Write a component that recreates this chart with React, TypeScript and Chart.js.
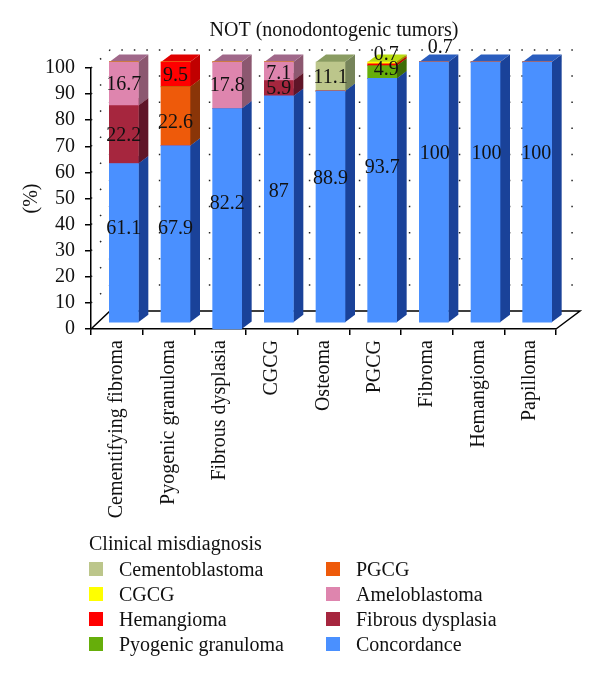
import React, { useEffect, useRef } from "react";
import { Chart, registerables } from "chart.js";

Chart.register(...registerables);

const FONT = '"Liberation Serif", serif';

const categories = ["Cementifying fibroma", "Pyogenic granuloma", "Fibrous dysplasia", "CGCG", "Osteoma", "PGCG", "Fibroma", "Hemangioma", "Papilloma"];
const concordance = [61.1, 67.9, 82.2, 87, 88.9, 93.7, 100, 100, 100];
const fibrousDysplasia = [22.2, 0, 0, 5.9, 0, 0, 0, 0, 0];
const ameloblastoma = [16.7, 0, 17.8, 7.1, 0, 0, 0, 0, 0];
const pgcg = [0, 22.6, 0, 0, 0, 0, 0, 0, 0];
const pyogenicGranuloma = [0, 0, 0, 0, 0, 4.9, 0, 0, 0];
const hemangioma = [0, 9.5, 0, 0, 0, 0.7, 0, 0, 0];
const cgcg = [0, 0, 0, 0, 0, 0.7, 0, 0, 0];
const cementoblastoma = [0, 0, 0, 0, 11.1, 0, 0, 0, 0];

const seriesTable = [
  { label: "Concordance", data: concordance, front: "#4a90ff", side: "#1a4299", top: "#2a5dbe" },
  { label: "Fibrous dysplasia", data: fibrousDysplasia, front: "#a6263e", side: "#5f1528", top: "#7a1c30" },
  { label: "Ameloblastoma", data: ameloblastoma, front: "#de85ae", side: "#8c5870", top: "#a0688a" },
  { label: "PGCG", data: pgcg, front: "#ee5a0a", side: "#8a3508", top: "#b04506" },
  { label: "Pyogenic granuloma", data: pyogenicGranuloma, front: "#66ae0a", side: "#3f6c06", top: "#4f8a08" },
  { label: "Hemangioma", data: hemangioma, front: "#ff0000", side: "#c00000", top: "#e00000" },
  { label: "CGCG", data: cgcg, front: "#ffff00", side: "#9a9a00", top: "#b8dc10" },
  { label: "Cementoblastoma", data: cementoblastoma, front: "#bcc68b", side: "#76845a", top: "#8a9c62" },
];

// Hand placement of value labels, which sit off-centre in the reference: [series, category, dx, dy]
const labelNudges: [number, number, number, number][] = [
  [0, 0, 0, -14], [0, 1, 0, -5], [0, 2, 0, -15], [0, 3, 0, -17], [0, 4, 0, -28], [0, 5, 0, -33],
  [0, 6, 1, -38], [0, 7, 1, -38], [0, 8, -1, -38],
  [3, 1, 0, 6], [2, 0, 0, 1], [2, 3, 0, 2], [4, 5, 4, -2], [5, 5, 4, -10], [6, 5, 58, -15],
];

const DEPTH_X = 10;
const DEPTH_Y = 7.5;
const BAR_SHIFT_X = 7;
const BAR_SHIFT_Y = 6;
const WALL_X = 19;
const WALL_Y = 18;
const WALL_RIGHT = 580;

const depthPlugin = {
  id: "depth",
  afterLayout(chart: any) {
    if (chart.titleBlock) chart.titleBlock.left += 21;
  },
  afterDatasetsUpdate(chart: any) {
    const zero = chart.scales.y.getPixelForValue(0);
    chart.data.datasets.forEach((_: any, d: number) => {
      chart.getDatasetMeta(d).data.forEach((el: any, i: number) => {
        el.x += BAR_SHIFT_X;
        el.y -= BAR_SHIFT_Y;
        el.base -= BAR_SHIFT_Y;
        if (d === 0 && categories[i] === "Fibrous dysplasia") el.base = zero;
      });
    });
  },
  beforeDatasetsDraw(chart: any) {
    const { ctx, scales } = chart;
    const { left, right, bottom } = chart.chartArea;
    ctx.save();
    ctx.strokeStyle = "#222";
    ctx.lineWidth = 1.5;
    ctx.setLineDash([1.5, 11]);
    scales.y.ticks.forEach((t: any) => {
      if (t.value === 0) return;
      const y = scales.y.getPixelForValue(t.value);
      ctx.beginPath();
      ctx.moveTo(left, y);
      ctx.lineTo(left + WALL_X, y - WALL_Y);
      ctx.lineTo(WALL_RIGHT, y - WALL_Y);
      ctx.stroke();
    });
    ctx.setLineDash([]);
    ctx.strokeStyle = "#000";
    ctx.beginPath();
    ctx.moveTo(left, bottom);
    ctx.lineTo(left + WALL_X, bottom - WALL_Y);
    ctx.lineTo(WALL_RIGHT, bottom - WALL_Y);
    ctx.lineTo(right, bottom);
    ctx.stroke();

    chart.data.datasets.forEach((_: any, d: number) => {
      const s = seriesTable[d];
      chart.getDatasetMeta(d).data.forEach((el: any, i: number) => {
        if (!s.data[i]) return;
        const xr = el.x + el.width / 2;
        const xl = el.x - el.width / 2;
        ctx.fillStyle = s.side;
        ctx.beginPath();
        ctx.moveTo(xr, el.y);
        ctx.lineTo(xr + DEPTH_X, el.y - DEPTH_Y);
        ctx.lineTo(xr + DEPTH_X, el.base - DEPTH_Y);
        ctx.lineTo(xr, el.base);
        ctx.closePath();
        ctx.fill();
        ctx.fillStyle = s.top;
        ctx.beginPath();
        ctx.moveTo(xl, el.y);
        ctx.lineTo(xl + DEPTH_X, el.y - DEPTH_Y);
        ctx.lineTo(xr + DEPTH_X, el.y - DEPTH_Y);
        ctx.lineTo(xr, el.y);
        ctx.closePath();
        ctx.fill();
      });
    });
    ctx.restore();
  },
  afterDatasetsDraw(chart: any) {
    const { ctx } = chart;
    ctx.save();
    ctx.fillStyle = "#111";
    ctx.font = `20px ${FONT}`;
    ctx.textAlign = "center";
    ctx.textBaseline = "middle";
    chart.data.datasets.forEach((_: any, d: number) => {
      const s = seriesTable[d];
      chart.getDatasetMeta(d).data.forEach((el: any, i: number) => {
        const v = s.data[i];
        if (!v) return;
        const n = labelNudges.find((k) => k[0] === d && k[1] === i);
        ctx.fillText(String(v), el.x + (n ? n[2] : 0), (el.y + el.base) / 2 + (n ? n[3] : 1));
      });
    });
    ctx.restore();
  },
};

const legendOrder = [...seriesTable].reverse();

export default function App() {
  const ref = useRef<HTMLCanvasElement>(null);
  useEffect(() => {
    const chart = new Chart(ref.current!, {
      type: "bar",
      data: {
        labels: categories,
        datasets: seriesTable.map((s) => ({
          label: s.label,
          data: s.data,
          backgroundColor: s.front,
          borderWidth: 0,
          barThickness: 29,
          clip: false as any,
        })),
      },
      plugins: [depthPlugin],
      options: {
        animation: false,
        responsive: false,
        layout: { padding: { top: 19, left: 20, right: 44, bottom: 0 } },
        plugins: {
          legend: { display: false },
          tooltip: { enabled: false },
          title: {
            display: true,
            text: "NOT (nonodontogenic tumors)",
            fullSize: false,
            color: "#111",
            font: { family: FONT, size: 20, weight: "normal" },
            padding: { top: 0, bottom: 25 },
          },
        },
        scales: {
          x: {
            stacked: true,
            border: { color: "#000", width: 1.5 },
            grid: { drawOnChartArea: false, drawTicks: true, tickLength: 6, color: "#000", lineWidth: 1.5, offset: true },
            ticks: { color: "#111", font: { family: FONT, size: 20 }, minRotation: 90, maxRotation: 90, autoSkip: false, padding: 5 },
            afterFit: (s: any) => { s.height = 349; },
          },
          y: {
            stacked: true,
            min: 0,
            max: 100,
            border: { color: "#000", width: 1.5 },
            grid: { drawOnChartArea: false, drawTicks: true, tickLength: 6, color: "#000", lineWidth: 1.5 },
            ticks: { stepSize: 10, autoSkip: false, color: "#111", font: { family: FONT, size: 20 }, padding: 10 },
            title: { display: true, text: "(%)", color: "#111", font: { family: FONT, size: 20 }, padding: 0 },
            afterFit: (s: any) => { s.width = 71; },
          },
        },
      },
    } as any);
    return () => chart.destroy();
  }, []);

  return (
    <div style={{ position: "absolute", left: 0, top: 0, width: 600, height: 678, fontFamily: FONT, fontSize: 20, color: "#111", background: "#fff" }}>
      <canvas ref={ref} width={600} height={678} style={{ display: "block" }} />
      <div style={{ position: "absolute", left: 89, top: 533, lineHeight: "20px", whiteSpace: "nowrap" }}>Clinical misdiagnosis</div>
      {legendOrder.map((s, i) => {
        const col = i < 4 ? 0 : 1;
        const row = i % 4;
        const y = 569 + row * 25;
        return (
          <React.Fragment key={s.label}>
            <div style={{ position: "absolute", left: col ? 326 : 89, top: y - 7, width: 14, height: 14, background: s.front }} />
            <div style={{ position: "absolute", left: col ? 356 : 119, top: y - 10, lineHeight: "20px", whiteSpace: "nowrap" }}>{s.label}</div>
          </React.Fragment>
        );
      })}
    </div>
  );
}
